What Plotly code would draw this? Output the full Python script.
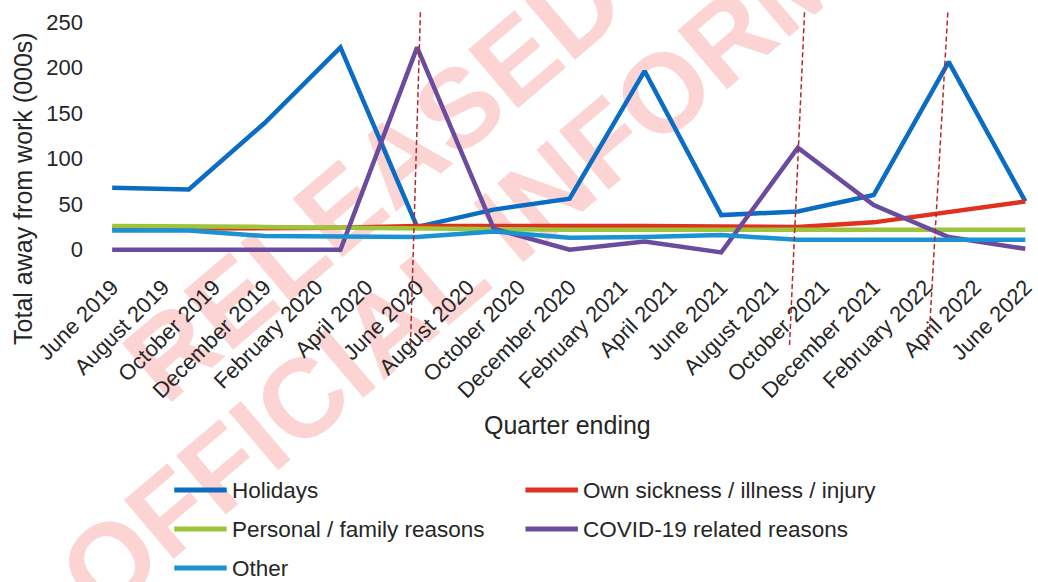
import math
import plotly.graph_objects as go

# Quarter-ending months (plotted on the first day of each month)
quarters = ["2019-06-01", "2019-09-01", "2019-12-01", "2020-03-01", "2020-06-01",
            "2020-09-01", "2020-12-01", "2021-03-01", "2021-06-01", "2021-09-01",
            "2021-12-01", "2022-03-01", "2022-06-01"]

# Total away from work, thousands
holidays = [68, 66, 139, 222, 25, 44, 56, 196, 38, 42, 60, 206, 53]
own_sickness = [23, 23, 23, 24, 26, 26, 27, 26, 25.5, 25, 30, 41, 53]
personal_family = [26, 26, 25, 24, 23, 22, 22, 22, 22, 23, 23, 22, 22]
covid_related = [0, 0, 0, 0, 222, 23, 0, 9, -3, 112, 49, 14, 1]
other = [21, 21, 15, 14, 14, 20, 13, 14, 16, 11, 11, 12, 11]

# Event markers (bottom date, top date) drawn as dashed lines
event_lines = [("2020-05-24", "2020-06-05"),
               ("2021-08-22", "2021-09-09"),
               ("2022-02-05", "2022-02-28")]

watermark_lines = ["RELEASED UNDER THE", "OFFICIAL INFORMATION ACT"]

FONT = "Liberation Sans, Arial, sans-serif"
TEXT = "#262626"

series = [
    ("Holidays", holidays, "#0b6cc4"),
    ("Own sickness / illness / injury", own_sickness, "#e0301e"),
    ("Personal / family reasons", personal_family, "#9dc43a"),
    ("COVID-19 related reasons", covid_related, "#6a4b9e"),
    ("Other", other, "#1b93d3"),
]

fig = go.Figure()
for name, vals, color in series:
    fig.add_trace(go.Scatter(
        x=quarters, y=vals, name=name, mode="lines",
        line=dict(color=color, width=4.5), showlegend=False,
    ))

# plot-area geometry in pixels, used to place paper-referenced items
W, H = 1038, 582
L, R, T, B = 108, 1, 20, 325
pw, ph = W - L - R, H - T - B


def px(x):
    return (x - L) / pw


def py(y):
    return (H - B - y) / ph


shapes = []
annotations = []

for x_bot, x_top in event_lines:
    shapes.append(dict(type="line", xref="x", yref="paper",
                       x0=x_bot, x1=x_top, y0=py(345), y1=py(12),
                       line=dict(color="#b8262c", width=1.5, dash="5px,3px"),
                       layer="above"))

# faint diagonal watermark text behind the data
ang = math.radians(40)
for (sx, sy), text in zip([(177, 419), (112, 632)], watermark_lines):
    ex, ey = sx + 300 * math.cos(ang), sy - 300 * math.sin(ang)
    shapes.append(dict(type="line", xref="paper", yref="paper",
                       x0=px(sx), y0=py(sy), x1=px(ex), y1=py(ey),
                       line=dict(color="rgba(0,0,0,0)", width=1),
                       layer="below",
                       label=dict(text=text, textposition="start",
                                  font=dict(size=112, color="rgba(240,40,40,0.2)",
                                            family=FONT, weight="bold"))))

# legend laid out in two columns below the chart
legend_slots = [(175, 490), (530, 490), (175, 529), (530, 529), (175, 568)]
for (name, _, color), (lx, ly) in zip(series, legend_slots):
    shapes.append(dict(type="line", xref="paper", yref="paper",
                       x0=px(lx), x1=px(lx + 53), y0=py(ly), y1=py(ly),
                       line=dict(color=color, width=5)))
    annotations.append(dict(text=name, xref="paper", yref="paper",
                            x=px(lx + 56), y=py(ly), xanchor="left", yanchor="middle",
                            showarrow=False, font=dict(size=22.5, color=TEXT)))

# axis titles
annotations.append(dict(text="Quarter ending", xref="paper", yref="paper",
                        x=px(573), y=py(425), xanchor="center", yanchor="middle",
                        showarrow=False, font=dict(size=25, color=TEXT)))
annotations.append(dict(text="Total away from work (000s)", xref="paper", yref="paper",
                        x=px(22), y=py(188), xanchor="center", yanchor="middle",
                        textangle=-90, showarrow=False, font=dict(size=25, color=TEXT)))

fig.update_layout(
    width=W, height=H,
    margin=dict(l=L, r=R, t=T, b=B),
    paper_bgcolor="white", plot_bgcolor="rgba(0,0,0,0)",
    font=dict(family=FONT, color=TEXT, size=21),
    shapes=shapes, annotations=annotations,
    showlegend=False,
    xaxis=dict(
        type="date", range=["2019-05-27", "2022-06-03"],
        tickmode="linear", tick0="2019-06-01", dtick="M2",
        tickformat="%B %Y", tickangle=-45, ticklabeloverflow="allow",
        ticklabelstandoff=12,
        showgrid=False, zeroline=False, showline=False, ticks="",
        tickfont=dict(size=22, color=TEXT),
    ),
    yaxis=dict(
        range=[-8, 252], tickvals=[0, 50, 100, 150, 200, 250],
        showgrid=False, zeroline=False, showline=False, ticks="",
        ticklabelstandoff=24,
        tickfont=dict(size=22, color=TEXT),
    ),
)

fig.write_html("out.html")
